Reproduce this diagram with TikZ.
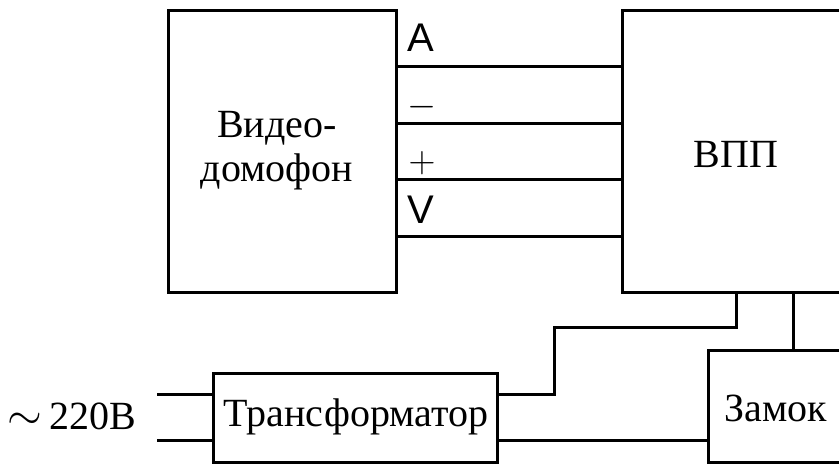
\documentclass[tikz,border=0pt]{standalone}
\usepackage{fontspec}
\setmainfont{Liberation Serif}
\newfontfamily\wirefont{Liberation Sans}

\begin{document}
\begin{tikzpicture}[x=1pt,y=-1pt,line width=3pt]
\tikzstyle{every node}=[font=\fontsize{40}{44}\selectfont]
\tikzstyle{block}=[draw,rectangle,anchor=north west,inner sep=0pt,outer sep=0pt]
\tikzstyle{caption}=[align=center,inner sep=0pt]
\tikzstyle{wirename}=[inner sep=0pt,font=\fontsize{40}{44}\selectfont\wirefont]
\useasboundingbox (0,0) rectangle (839,464);
\clip (0,0) rectangle (839,464);

\node[block,minimum width=228pt,minimum height=282pt] (video) at (168,10) {};
\node[block,minimum width=228pt,minimum height=282pt] (vpp) at (622,10) {};
\node[block,minimum width=284pt,minimum height=89pt] (trans) at (213,373) {};
\node[block,minimum width=136pt,minimum height=112pt] (lock) at (708,350) {};

\node[caption] (videotext) at (277,151) {Видео-\\домофон};
\node[caption] (vpptext) at (736,154) {ВПП};
\node[caption] (transtext) at (356,417) {Трансформатор};
\node[caption] (locktext) at (776,408) {Замок};
\node[caption] (mains) at (72,416) {\scalebox{1.8}{$\sim$}\,220В};

\node[wirename] (nameA) at (421,38) {A};
\node[wirename] (nameV) at (421,210) {V};
\node[caption] (nameminus) at (422,107) {\scalebox{1.5}{$-$}};
\node[caption] (nameplus) at (422,163) {\scalebox{1.5}{$+$}};

% wires between the two big blocks
\coordinate (wireA) at (396,66);
\coordinate (wireminus) at (396,123);
\coordinate (wireplus) at (396,179);
\coordinate (wireV) at (396,236);
\draw (wireA) -- (wireA -| vpp.west);
\draw (wireminus) -- (wireminus -| vpp.west);
\draw (wireplus) -- (wireplus -| vpp.west);
\draw (wireV) -- (wireV -| vpp.west);

% mains input
\coordinate (mainsup) at (157,394);
\coordinate (mainsdown) at (157,440);
\draw (mainsup) -- (mainsup -| trans.west);
\draw (mainsdown) -- (mainsdown -| trans.west);

% transformer outputs
\coordinate (transup) at (497,394);
\coordinate (transdown) at (497,440);
\coordinate (vppdrop) at (736,292);
\draw (transup) -- (554,394) -- (554,327) -- (736,327) -- (vppdrop);
\draw (transdown) -- (transdown -| lock.west);

% lock supply
\coordinate (lockdrop) at (793,350);
\draw (lockdrop) -- (lockdrop |- vpp.south);
\end{tikzpicture}
\end{document}
